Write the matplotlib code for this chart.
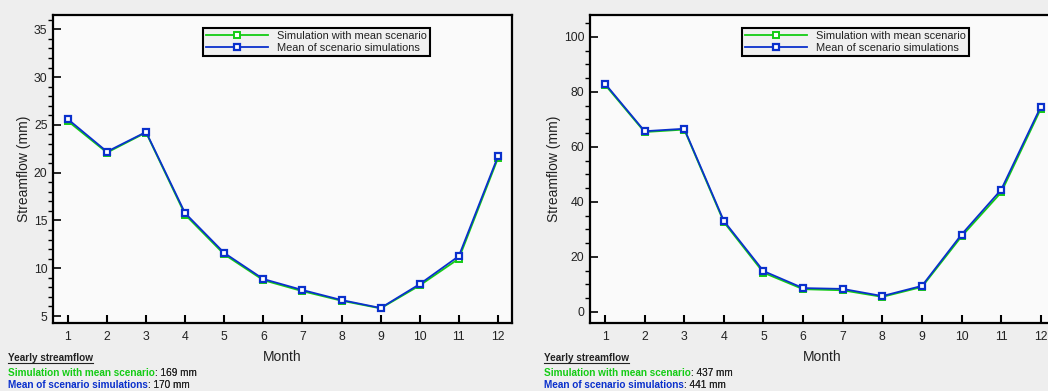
import numpy as np
import matplotlib
matplotlib.use('Agg')
import matplotlib.pyplot as plt
from matplotlib.ticker import MultipleLocator
from matplotlib.lines import Line2D

plt.rcParams['font.family'] = ['Liberation Sans', 'DejaVu Sans']

months = list(range(1, 13))

# left station
left_mean_scen = [25.4, 22.1, 24.2, 15.6, 11.45, 8.75, 7.6, 6.6, 5.8, 8.2, 11.0, 21.5]
left_scen_mean = [25.6, 22.2, 24.26, 15.76, 11.6, 8.87, 7.72, 6.67, 5.84, 8.34, 11.27, 21.7]
left_yearly = [169, 170]

# right station
right_mean_scen = [82.6, 65.4, 66.3, 32.6, 14.2, 8.2, 7.8, 5.4, 9.0, 27.4, 43.4, 73.8]
right_scen_mean = [83.0, 65.7, 66.6, 33.05, 14.8, 8.6, 8.3, 5.7, 9.4, 28.1, 44.4, 74.6]
right_yearly = [437, 441]

labels = ['Simulation with mean scenario', 'Mean of scenario simulations']
GREEN = '#14cc14'
BLUE = '#0a30cc'
BG = '#eeeeee'

fig = plt.figure(figsize=(10.48, 3.91), dpi=100, facecolor=BG)


def draw_panel(rect, sim, mean, ylim, major, minor):
    ax = fig.add_axes(rect)
    ax.set_facecolor('#fafafa')
    ax.plot(months, sim, color=GREEN, lw=1.3, marker='s', ms=4.2,
            mfc='white', mec=GREEN, mew=1.4, label=labels[0])
    ax.plot(months, mean, color=BLUE, lw=1.3, marker='s', ms=4.2,
            mfc='white', mec=BLUE, mew=1.6, label=labels[1])
    ax.set_xlim(0.62, 12.36)
    ax.set_ylim(*ylim)
    ax.set_xticks(months)
    ax.yaxis.set_major_locator(MultipleLocator(major))
    ax.yaxis.set_minor_locator(MultipleLocator(minor))
    ax.tick_params(axis='both', direction='in', labelsize=8.8, colors='black',
                   labelcolor='#222222')
    ax.tick_params(axis='y', which='major', length=6, width=1.2, pad=4)
    ax.tick_params(axis='y', which='minor', length=3.5, width=1.0)
    ax.tick_params(axis='x', which='major', length=6, width=1.5, pad=6)
    for s in ax.spines.values():
        s.set_linewidth(1.6)
    ax.set_xlabel('Month', fontsize=10, labelpad=5, color='#222222')
    ax.set_ylabel('Streamflow (mm)', fontsize=10, labelpad=2, color='#222222')
    leg = ax.legend(loc='upper left', bbox_to_anchor=(0.327, 0.958), borderaxespad=0,
                    fontsize=7.9, fancybox=False, framealpha=1, facecolor='#f0f0f0',
                    edgecolor='black', handlelength=5.6, handletextpad=0.8,
                    numpoints=1, labelspacing=0.15, borderpad=0.3)
    leg.get_frame().set_linewidth(1.5)
    for t in leg.get_texts():
        t.set_color('#222222')
    return ax


ax1 = draw_panel([53 / 1048, 1 - 322.7 / 391, 459 / 1048, 307.7 / 391],
                 left_mean_scen, left_scen_mean, (4.3, 36.5), 5, 1)
ax2 = draw_panel([590 / 1048, 1 - 322.7 / 391, 465 / 1048, 307.7 / 391],
                 right_mean_scen, right_scen_mean, (-4, 108), 20, 5)

# yearly totals under each panel
fig.canvas.draw()
renderer = fig.canvas.get_renderer()
for x0, yearly in [(8 / 1048, left_yearly), (544 / 1048, right_yearly)]:
    t = fig.text(x0, 1 - 358 / 391, 'Yearly streamflow', fontsize=7.2,
                 fontweight='bold', color='#222222', va='center')
    bb = t.get_window_extent(renderer).transformed(fig.transFigure.inverted())
    fig.add_artist(Line2D([bb.x0, bb.x1], [bb.y0 + 0.001, bb.y0 + 0.001],
                          transform=fig.transFigure, color='#222222', lw=0.8))
    for i, (lab, col) in enumerate(zip(labels, [GREEN, BLUE])):
        y = 1 - (372.7 + 12.5 * i) / 391
        t1 = fig.text(x0, y, lab, fontsize=7.2, fontweight='bold', color=col, va='center')
        fig.add_artist(plt.annotate(': %d mm' % yearly[i], xy=(1, 0), xycoords=t1,
                                    va='bottom', ha='left', fontsize=7.2,
                                    color='#222222', annotation_clip=False))

fig.savefig('out.png', dpi=100, facecolor=BG)
